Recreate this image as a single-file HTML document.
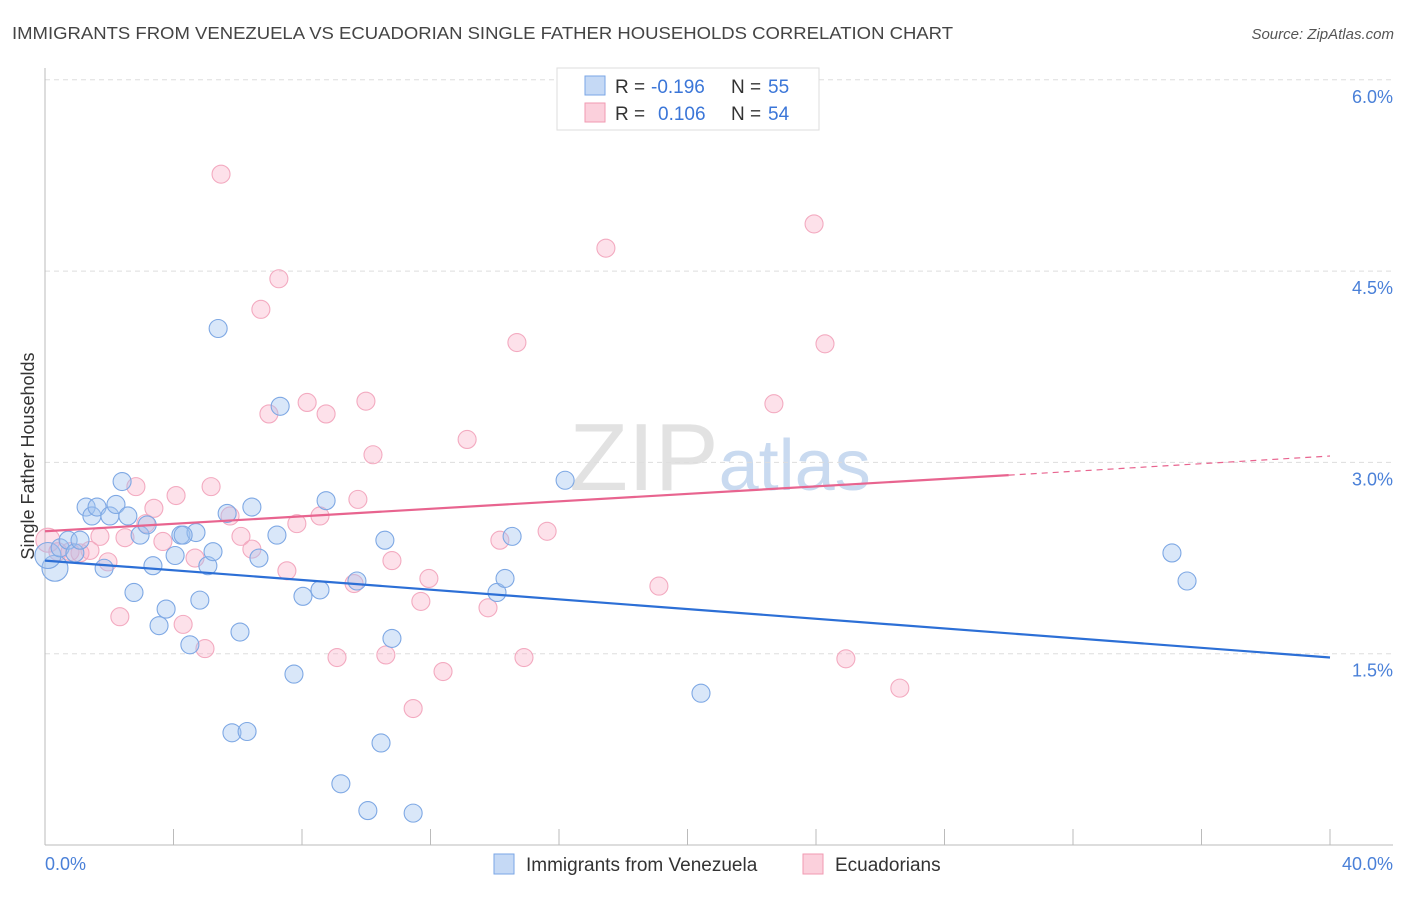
<!DOCTYPE html>
<html><head><meta charset="utf-8">
<style>
body{margin:0;background:#fff;font-family:"Liberation Sans",sans-serif;}
svg text{font-family:"Liberation Sans",sans-serif;}
</style></head><body>
<svg id="chart" width="1406" height="892" viewBox="0 0 1406 892" xmlns="http://www.w3.org/2000/svg">
<text x="12" y="39" font-size="17.5" fill="#444" textLength="941" lengthAdjust="spacingAndGlyphs">IMMIGRANTS FROM VENEZUELA VS ECUADORIAN SINGLE FATHER HOUSEHOLDS CORRELATION CHART</text>
<text x="1394" y="39" font-size="15" fill="#555" text-anchor="end" font-style="italic">Source: ZipAtlas.com</text>
<text x="720" y="490" font-size="96" text-anchor="middle" fill="#e2e2e2" font-family="Liberation Serif"><tspan>ZIP</tspan><tspan fill="#c9daf0" font-family="Liberation Sans" font-size="72">atlas</tspan></text>
<g id="grid"></g>
<g id="axes"></g>
<g id="points"></g>
<g id="lines"></g>
<text transform="translate(34,456) rotate(-90)" font-size="18" fill="#333" text-anchor="middle">Single Father Households</text>
<g>
<rect x="557" y="68" width="262" height="62" fill="#fff" stroke="#ddd"/>
<rect x="585" y="76" width="20" height="19" fill="#c5d9f5" stroke="#7aa6e6"/>
<rect x="585" y="103" width="20" height="19" fill="#fbd0dc" stroke="#f09ab2"/>
<text x="615" y="93" font-size="19" fill="#333">R =</text>
<text x="651" y="93" font-size="19" fill="#3b76d8">-0.196</text>
<text x="731" y="93" font-size="19" fill="#333">N =</text>
<text x="768" y="93" font-size="19" fill="#3b76d8">55</text>
<text x="615" y="120" font-size="19" fill="#333">R =</text>
<text x="658" y="120" font-size="19" fill="#3b76d8">0.106</text>
<text x="731" y="120" font-size="19" fill="#333">N =</text>
<text x="768" y="120" font-size="19" fill="#3b76d8">54</text>
</g>
<g>
<rect x="494" y="854" width="20" height="20" fill="#c5d9f5" stroke="#7aa6e6"/>
<text x="526" y="871" font-size="19" fill="#333">Immigrants from Venezuela</text>
<rect x="803" y="854" width="20" height="20" fill="#fbd0dc" stroke="#f09ab2"/>
<text x="835" y="871" font-size="19" fill="#333">Ecuadorians</text>
</g>
</svg>
<script>
const yTicks=[1.5,3.0,4.5,6.0];
const yTickLabels=["1.5%","3.0%","4.5%","6.0%"];
const xTickCount=10;
const xLabels=["0.0%","40.0%"];
const blueX=[0.31,0.09,0.47,0.72,0.93,1.09,1.28,1.46,1.62,1.84,2.02,2.21,2.40,2.58,2.77,2.96,3.18,3.36,3.55,3.77,4.05,4.23,4.51,4.70,4.82,5.07,5.23,5.39,5.67,5.82,6.07,6.29,6.44,6.66,7.22,7.32,7.75,8.03,8.56,8.75,9.71,10.05,9.21,10.46,10.58,10.80,11.46,14.07,14.32,14.54,16.19,20.42,35.08,35.55,4.30];
const blueY=[2.17,2.27,2.33,2.39,2.29,2.39,2.65,2.58,2.65,2.17,2.58,2.67,2.85,2.58,1.98,2.43,2.51,2.19,1.72,1.85,2.27,2.43,1.57,2.45,1.92,2.19,2.30,4.05,2.60,0.88,1.67,0.89,2.65,2.25,2.43,3.44,1.34,1.95,2.00,2.70,2.07,0.27,0.48,0.80,2.39,1.62,0.25,1.98,2.09,2.42,2.86,1.19,2.29,2.07,2.43];
const pinkX=[0.09,0.40,0.78,1.09,1.40,1.71,1.96,2.33,2.49,2.83,3.14,3.39,3.67,4.08,4.30,4.67,4.98,5.17,5.48,5.76,6.10,6.44,6.72,6.97,7.28,7.53,7.84,8.16,8.56,8.75,9.09,9.62,9.74,9.99,10.21,10.61,10.80,11.46,11.70,11.95,12.39,13.14,13.79,14.16,14.69,14.91,15.63,17.46,19.11,22.69,23.94,24.28,24.93,26.61];
const pinkY=[2.39,2.30,2.30,2.29,2.31,2.42,2.22,1.79,2.41,2.81,2.52,2.64,2.38,2.74,1.73,2.25,1.54,2.81,5.26,2.58,2.42,2.32,4.20,3.38,4.44,2.15,2.52,3.47,2.58,3.38,1.47,2.05,2.71,3.48,3.06,1.49,2.23,1.07,1.91,2.09,1.36,3.18,1.86,2.39,3.94,1.47,2.46,4.68,2.03,3.46,4.87,3.93,1.46,1.23];
const blueTrend=[2.23,1.47];
const pinkTrend=[2.46,2.90,3.05];
const NS="http://www.w3.org/2000/svg";
const sx=v=>45+v/40*1285;
const sy=v=>845-v/1.5*191.3;
function mk(tag,attrs,parent){const e=document.createElementNS(NS,tag);for(const k in attrs)e.setAttribute(k,attrs[k]);parent.appendChild(e);return e;}
const grid=document.getElementById('grid'),axes=document.getElementById('axes');
yTicks.forEach((t,i)=>{
 const l=mk('line',{x1:45,x2:1393,y1:sy(t),y2:sy(t),stroke:'#ddd','stroke-dasharray':'5,4'},grid);
 
 
 const tx=mk('text',{x:1393,y:sy(t)+23,'font-size':18,fill:'#4a80d8','text-anchor':'end'},axes);
 tx.textContent=yTickLabels[i];
 
 
});
const ax=mk('line',{x1:45,x2:45,y1:68,y2:845,stroke:'#bbb'},axes);


const bx=mk('line',{x1:45,x2:1393,y1:845,y2:845,stroke:'#bbb'},axes);


for(let i=0;i<=xTickCount;i++){
 const x=sx(i*40/xTickCount);
 const t=mk('line',{x1:x,x2:x,y1:829,y2:845,stroke:'#bbb'},axes);
 
 
}
const xl0=mk('text',{x:45,y:870,'font-size':18,fill:'#4a80d8'},axes);xl0.textContent=xLabels[0];


const xl1=mk('text',{x:1393,y:870,'font-size':18,fill:'#4a80d8','text-anchor':'end'},axes);xl1.textContent=xLabels[1];


const pts=document.getElementById('points');
pinkX.forEach((v,i)=>{
 const c=mk('circle',{cx:sx(v),cy:sy(pinkY[i]),r:i===0?12:9,fill:'rgba(248,170,195,0.35)',stroke:'#f3aac0','stroke-width':1.1},pts);
 
 
});
blueX.forEach((v,i)=>{
 const c=mk('circle',{cx:sx(v),cy:sy(blueY[i]),r:i<2?13:9,fill:'rgba(160,195,240,0.4)',stroke:'#7ea8e4','stroke-width':1.1},pts);
 
 
});
const lines=document.getElementById('lines');
const bl=mk('line',{x1:sx(0),y1:sy(blueTrend[0]),x2:sx(40),y2:sy(blueTrend[1]),stroke:'#2c6fd6','stroke-width':2.2},lines);


const pl=mk('line',{x1:sx(0),y1:sy(pinkTrend[0]),x2:sx(30),y2:sy(pinkTrend[1]),stroke:'#e8648f','stroke-width':2.2},lines);


const pd=mk('line',{x1:sx(30),y1:sy(pinkTrend[1]),x2:sx(40),y2:sy(pinkTrend[2]),stroke:'#e8648f','stroke-width':1.2,'stroke-dasharray':'6,5'},lines);


</script>
</body></html>
